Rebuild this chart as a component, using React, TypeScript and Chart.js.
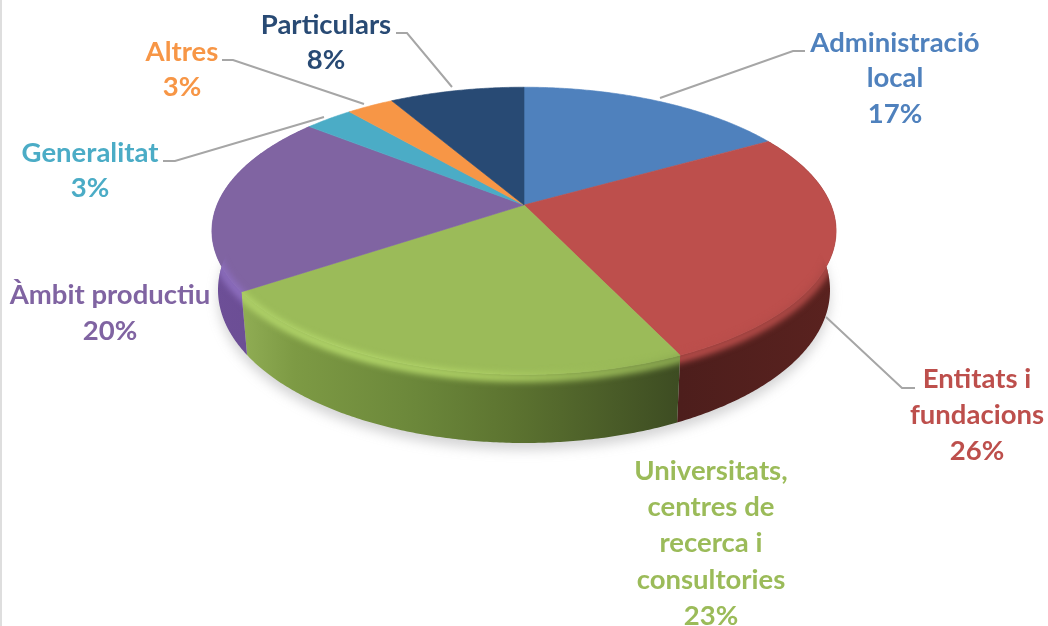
import React, { useEffect, useRef } from "react";
import { Chart, registerables } from "chart.js";

Chart.register(...registerables);

const categories = ["Administració local", "Entitats i fundacions", "Universitats, centres de recerca i consultories", "Àmbit productiu", "Generalitat", "Altres", "Particulars"];
const shares = [16.7, 26.3, 22.5, 20.3, 3, 2.9, 8.3];
const sliceColors = ["#4f81bd", "#bd4f4c", "#9bbb59", "#8064a2", "#4bacc6", "#f79646", "#284a74"];
const labelLines = [
  ["Administració", "local"],
  ["Entitats i", "fundacions"],
  ["Universitats,", "centres de", "recerca i", "consultories"],
  ["Àmbit productiu"],
  ["Generalitat"],
  ["Altres"],
  ["Particulars"],
];

// Layout of the outside labels and their leader lines
const labelCentres = [[895, 43], [977, 379], [711, 471], [110, 295], [90, 153], [182, 52], [326, 25]];
const lineHeights = [35.5, 36, 36.3, 36, 35, 35, 35];
const leaders = [
  [[805, 51], [793, 51], [660, 98]],
  [[915, 388], [902, 388], [826, 317]],
  [],
  [],
  [[163, 161], [175, 161], [324, 117]],
  [[222, 60], [233, 60], [364, 104]],
  [[396, 33], [407, 33], [452, 87]],
];
const FONT = "bold 27.5px Lato, Carlito, sans-serif";

// Projection of the tilted disc
const AX = 524, K = 0.18;
const TOP = { ay: 205, rx: 307, ry: 139 };
const BOTTOM = { ay: 262.5, rx: 301, ry: 148 };

const wallStops: Record<number, [number, string][]> = {
  1: [[0, "#4d1e1c"], [1, "#5a221f"]],
  2: [[0, "#90ad54"], [0.12, "#7d9a44"], [0.4, "#6b873a"], [0.62, "#5c7330"], [1, "#3d4c22"]],
  3: [[0, "#6d4f97"], [1, "#6a4c92"]],
};
const rimStops: Record<number, [number, string][]> = {
  1: [[0, "#bd4f4c"], [1, "#b04a47"]],
  2: [[0, "#aed067"], [0.25, "#b4d86b"], [0.55, "#aed064"], [1, "#8aa84f"]],
  3: [[0, "#8a6cba"], [1, "#8f70c2"]],
};

type Surface = { ay: number; rx: number; ry: number };
function project(theta: number, s: Surface): [number, number] {
  const u = Math.sin(theta), v = -Math.cos(theta);
  const d = 1 - K * v;
  return [AX + (s.rx * u) / d, s.ay + (s.ry * v) / d];
}
function arcPoints(a: number, b: number, s: Surface, shift = 0): [number, number][] {
  const n = Math.max(2, Math.ceil(((b - a) * 180) / Math.PI / 0.5));
  const pts: [number, number][] = [];
  for (let i = 0; i <= n; i++) {
    const p = project(a + ((b - a) * i) / n, s);
    pts.push([p[0], p[1] + shift]);
  }
  return pts;
}
function trace(ctx: CanvasRenderingContext2D, pts: [number, number][], move = true) {
  pts.forEach((p, i) => (i === 0 && move ? ctx.moveTo(p[0], p[1]) : ctx.lineTo(p[0], p[1])));
}
function gradient(ctx: CanvasRenderingContext2D, pts: [number, number][], stops: [number, string][]) {
  const xs = pts.map((p) => p[0]);
  const g = ctx.createLinearGradient(Math.min(...xs), 0, Math.max(...xs), 0);
  stops.forEach(([o, c]) => g.addColorStop(o, c));
  return g;
}
const deg = (d: number) => (d * Math.PI) / 180;

const pie3d = {
  id: "pie3d",
  beforeDatasetDraw(chart: any) {
    const ctx: CanvasRenderingContext2D = chart.ctx;
    const arcs = chart.getDatasetMeta(0).data;
    const spans = arcs.map((a: any) => [a.startAngle + Math.PI / 2, a.endAngle + Math.PI / 2]);
    ctx.save();
    ctx.lineJoin = "round";

    // left frame line
    ctx.fillStyle = "#dedede";
    ctx.fillRect(0, 0, 2, 626);

    // soft ground shadow
    ctx.save();
    ctx.filter = "blur(6px)";
    ctx.fillStyle = "rgba(120,120,125,0.32)";
    ctx.beginPath();
    trace(ctx, arcPoints(0, Math.PI * 2, BOTTOM, 7));
    ctx.closePath();
    ctx.fill();
    ctx.restore();

    // side walls
    spans.forEach(([a, b]: number[], i: number) => {
      if (!wallStops[i]) return;
      const top = arcPoints(a, b, TOP);
      const bot = arcPoints(a, b, BOTTOM).reverse();
      ctx.beginPath();
      trace(ctx, top);
      trace(ctx, bot, false);
      ctx.closePath();
      ctx.fillStyle = gradient(ctx, top, wallStops[i]);
      ctx.fill();
    });

    // top faces
    spans.forEach(([a, b]: number[], i: number) => {
      ctx.beginPath();
      ctx.moveTo(AX, TOP.ay);
      trace(ctx, arcPoints(a, b, TOP), false);
      ctx.closePath();
      ctx.fillStyle = arcs[i].options.backgroundColor;
      ctx.fill();
      ctx.strokeStyle = arcs[i].options.backgroundColor;
      ctx.lineWidth = 0.6;
      ctx.stroke();
    });

    // bevel on the front rim
    spans.forEach(([a, b]: number[], i: number) => {
      if (!rimStops[i]) return;
      const lo = Math.max(a - deg(4), deg(72));
      const hi = Math.min(b + deg(4), deg(288));
      const topA = project(a, TOP), topB = project(b, TOP);
      ctx.save();
      ctx.beginPath();
      ctx.moveTo(AX, TOP.ay);
      ctx.lineTo(topA[0], topA[1]);
      trace(ctx, arcPoints(a, b, BOTTOM), false);
      ctx.lineTo(topB[0], topB[1]);
      ctx.closePath();
      ctx.clip();
      ctx.filter = "blur(3px)";
      const rim = arcPoints(lo, hi, TOP, 3);
      ctx.beginPath();
      trace(ctx, rim);
      ctx.strokeStyle = gradient(ctx, rim, rimStops[i]);
      ctx.lineWidth = 9;
      ctx.stroke();
      ctx.restore();
    });
    ctx.restore();
    return false;
  },
  afterDatasetsDraw(chart: any) {
    const ctx: CanvasRenderingContext2D = chart.ctx;
    ctx.save();
    ctx.strokeStyle = "#a6a6a6";
    ctx.lineWidth = 2;
    leaders.forEach((l) => {
      if (!l.length) return;
      ctx.beginPath();
      trace(ctx, l as [number, number][]);
      ctx.stroke();
    });
    ctx.font = FONT;
    ctx.textAlign = "center";
    ctx.textBaseline = "middle";
    categories.forEach((_, i) => {
      const lines = [...labelLines[i], `${Math.round(shares[i])}%`];
      ctx.fillStyle = sliceColors[i];
      lines.forEach((t, j) => ctx.fillText(t, labelCentres[i][0], labelCentres[i][1] + j * lineHeights[i]));
    });
    ctx.restore();
  },
};

export default function App() {
  const ref = useRef<HTMLCanvasElement>(null);
  useEffect(() => {
    const chart = new Chart(ref.current!, {
      type: "pie",
      data: { labels: categories, datasets: [{ data: shares, backgroundColor: sliceColors, borderWidth: 0 }] },
      options: {
        animation: false,
        responsive: false,
        plugins: { legend: { display: false }, tooltip: { enabled: false } },
      },
      plugins: [pie3d],
    });
    return () => chart.destroy();
  }, []);
  return (
    <div style={{ position: "fixed", left: 0, top: 0, width: 1048, height: 626, background: "#fff" }}>
      <canvas ref={ref} width={1048} height={626} style={{ display: "block" }} />
    </div>
  );
}
